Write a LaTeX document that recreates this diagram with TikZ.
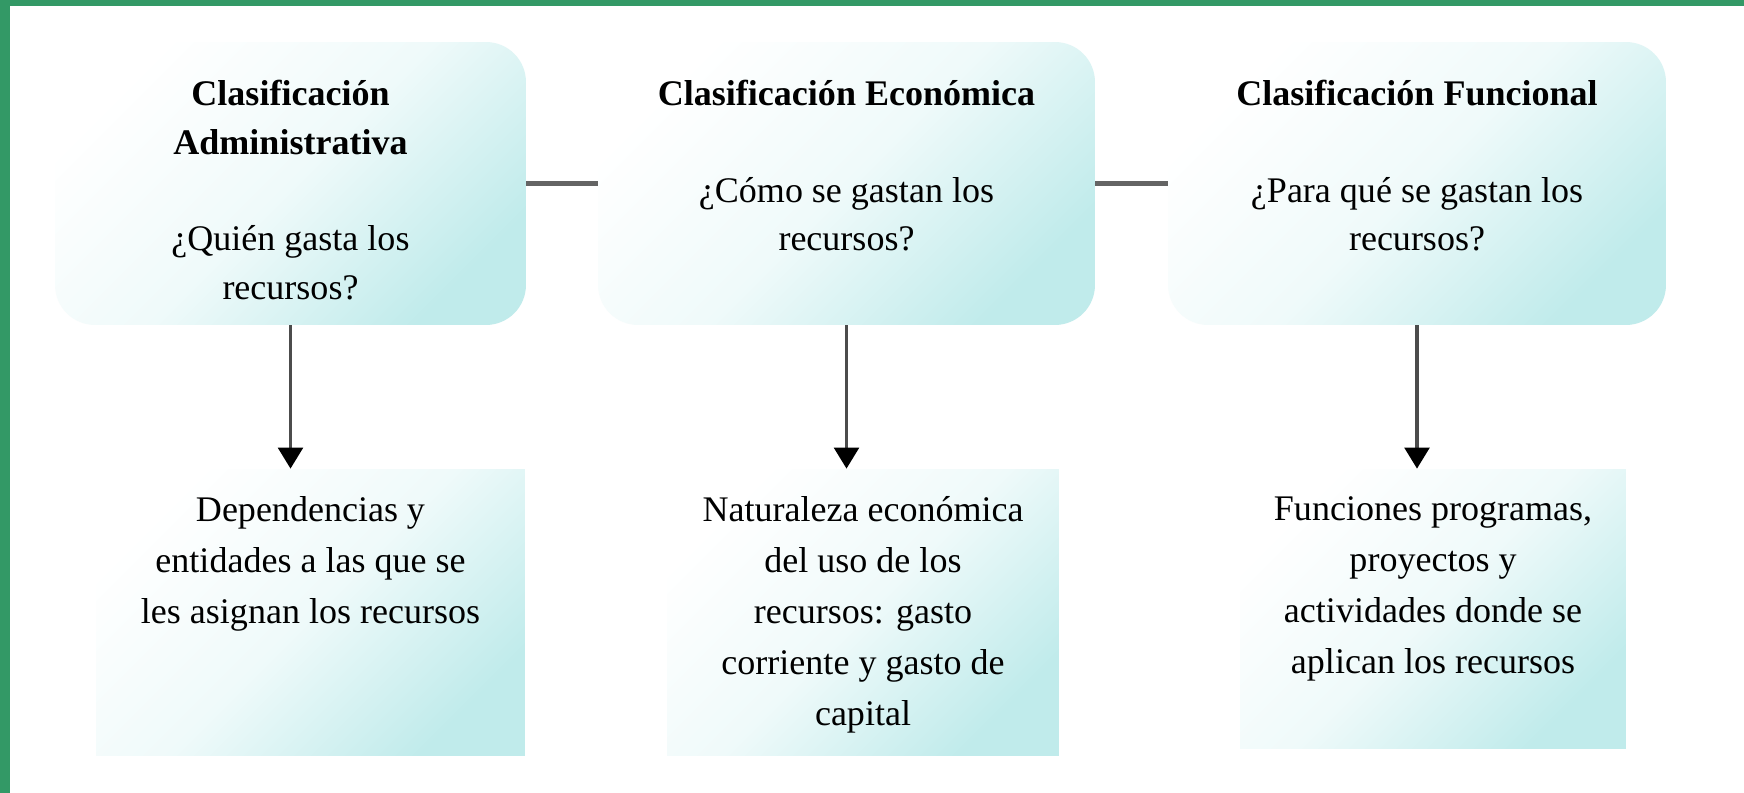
\documentclass[tikz,border=0pt]{standalone}
\usepackage{fontspec}
\setmainfont{Liberation Serif}
\usetikzlibrary{arrows.meta,positioning}
\definecolor{framegreen}{RGB}{51,153,102}
\definecolor{boxcyan}{RGB}{192,235,235}
\definecolor{linkgray}{RGB}{100,100,100}

\begin{document}
\begin{tikzpicture}
[ x=0.02cm, y=-0.02cm
, pale/.style={top color=white, bottom color=boxcyan, middle color=boxcyan!25!white, shading angle=45}
, class/.style={rectangle, rounded corners=0.8cm, pale, minimum height=5.66cm, inner sep=0pt}
, detail/.style={rectangle, pale, minimum height=5.74cm, inner sep=0pt}
, classtext/.style={align=center, inner sep=0pt, font=\fontsize{20.5}{27.5}\selectfont}
, detailtext/.style={align=center, inner sep=0pt, font=\fontsize{20.5}{29}\selectfont}
, link/.style={draw=linkgray, line width=3pt}
, down/.style={draw=black!70, line width=2.2pt, -{Triangle[width=14pt, length=12pt, color=black]}}
]
\fill [white] (0,0) rectangle (1744,793);
\useasboundingbox (0,0) rectangle (1744,793);
\fill [framegreen] (0,0) rectangle (10,793);
\fill [framegreen] (0,0) rectangle (1744,6);
% Top row:
\node (adm) [class, minimum width=9.42cm] at (290.5,183.5) {};
\node (eco) [class, minimum width=9.94cm] at (846.5,183.5) {};
\node (fun) [class, minimum width=9.96cm] at (1417,183.5) {};
\node (admtxt) [classtext, below=0.77cm of adm.north]
  {\textbf{Clasificación}\\ \textbf{Administrativa}\\[27.5pt] ¿Quién gasta los\\ recursos?};
\node (ecotxt) [classtext, below=0.77cm of eco.north]
  {\textbf{Clasificación Económica}\\[27.5pt] ¿Cómo se gastan los\\ recursos?};
\node (funtxt) [classtext, below=0.77cm of fun.north]
  {\textbf{Clasificación Funcional}\\[27.5pt] ¿Para qué se gastan los\\ recursos?};
% Bottom row:
\node (admdet) [detail, minimum width=8.58cm] at (310.5,612.5) {};
\node (ecodet) [detail, minimum width=7.84cm] at (863,612.5) {};
\node (fundet) [detail, minimum width=7.72cm, minimum height=5.6cm] at (1433,609) {};
\node (admdettxt) [detailtext, below=0.55cm of admdet.north]
  {Dependencias y\\ entidades a las que se\\ les asignan los recursos};
\node (ecodettxt) [detailtext, below=0.55cm of ecodet.north]
  {Naturaleza económica\\ del uso de los\\ recursos: gasto\\ corriente y gasto de\\ capital};
\node (fundettxt) [detailtext, below=0.55cm of fundet.north]
  {Funciones programas,\\ proyectos y\\ actividades donde se\\ aplican los recursos};
% Connectors:
\draw [link] (adm) -- (eco);
\draw [link] (eco) -- (fun);
\draw [down] (adm.south) -- (adm.south |- admdet.north);
\draw [down] (eco.south) -- (eco.south |- ecodet.north);
\draw [down] (fun.south) -- (fun.south |- fundet.north);
\end{tikzpicture}
\end{document}
